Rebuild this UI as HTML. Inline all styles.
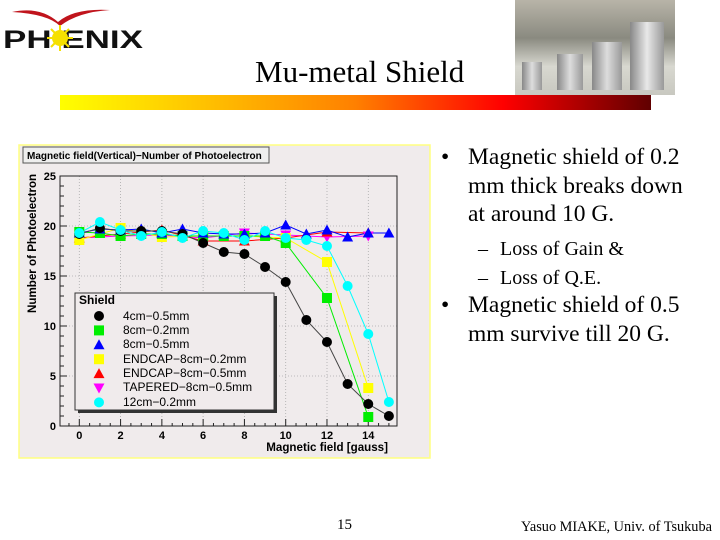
<!DOCTYPE html>
<html><head><meta charset="utf-8"><style>
body{margin:0;width:720px;height:540px;background:#fff;position:relative;overflow:hidden;font-family:"Liberation Serif",serif}
.a{position:absolute;white-space:nowrap}
</style></head><body>
<!-- logo -->
<svg class="a" style="left:0;top:0" width="150" height="60">
<path d="M12 12 Q40 6 58 22 Q74 8 110 10 Q78 12 60 26 Q48 14 12 12Z" fill="#c0141c"/>
<text x="3" y="48" font-family="Liberation Sans" font-weight="bold" font-size="25" fill="#111" textLength="140" lengthAdjust="spacingAndGlyphs">PH  ENIX</text>
<circle cx="60" cy="38" r="8" fill="#f5e000"/>
<g stroke="#f5e000" stroke-width="2"><line x1="60" y1="25" x2="60" y2="51"/><line x1="47" y1="38" x2="73" y2="38"/><line x1="51" y1="29" x2="69" y2="47"/><line x1="51" y1="47" x2="69" y2="29"/></g>
</svg>
<!-- photo -->
<div class="a" style="left:515px;top:0;width:160px;height:95px;background:linear-gradient(180deg,#b8b4a8 0%,#8a8a80 40%,#d8d8d0 70%,#c8c8c0 100%)"></div>
<div class="a" style="left:522px;top:62px;width:20px;height:28px;background:linear-gradient(90deg,#888,#ddd,#999)"></div>
<div class="a" style="left:557px;top:54px;width:26px;height:36px;background:linear-gradient(90deg,#888,#ddd,#999)"></div>
<div class="a" style="left:592px;top:42px;width:30px;height:48px;background:linear-gradient(90deg,#888,#ddd,#999)"></div>
<div class="a" style="left:630px;top:22px;width:34px;height:68px;background:linear-gradient(90deg,#888,#e8e8e8,#999)"></div>
<div class="a" style="left:255px;top:54px;font-size:31px;color:#000">Mu-metal Shield</div>
<div class="a" style="left:60px;top:95px;width:591px;height:15px;background:linear-gradient(90deg,#ffff00 0%,#ffc000 25%,#ff8000 50%,#ff0000 75%,#600000 100%)"></div>

<!-- chart -->
<svg class="a" style="left:0;top:0" width="440" height="470" font-family="Liberation Sans" font-weight="bold">
<rect x="19" y="145" width="411" height="313" fill="#f0ebec" stroke="#ffff80" stroke-width="1.5"/>
<rect x="23" y="147" width="246" height="16" fill="#eeeeee" stroke="#555"/>
<text x="27" y="159" font-size="10">Magnetic field(Vertical)−Number of Photoelectron</text>
<g stroke="#aaa" stroke-dasharray="1,2" stroke-width="0.8">
<line x1="60" y1="376" x2="397" y2="376"/><line x1="60" y1="326" x2="397" y2="326"/><line x1="60" y1="276" x2="397" y2="276"/><line x1="60" y1="226" x2="397" y2="226"/>
<line x1="79.3" y1="176" x2="79.3" y2="426"/><line x1="120.6" y1="176" x2="120.6" y2="426"/><line x1="161.9" y1="176" x2="161.9" y2="426"/><line x1="203.1" y1="176" x2="203.1" y2="426"/><line x1="244.4" y1="176" x2="244.4" y2="426"/><line x1="285.7" y1="176" x2="285.7" y2="426"/><line x1="327" y1="176" x2="327" y2="426"/><line x1="368.3" y1="176" x2="368.3" y2="426"/>
</g>
<rect x="60" y="176" width="337" height="250" fill="none" stroke="#222"/>
<g font-size="11" text-anchor="end"><text x="56" y="430">0</text><text x="56" y="380">5</text><text x="56" y="330">10</text><text x="56" y="280">15</text><text x="56" y="230">20</text><text x="56" y="180">25</text></g>
<g font-size="11" text-anchor="middle"><text x="79.3" y="439">0</text><text x="120.6" y="439">2</text><text x="161.9" y="439">4</text><text x="203.1" y="439">6</text><text x="244.4" y="439">8</text><text x="285.7" y="439">10</text><text x="327" y="439">12</text><text x="368.3" y="439">14</text></g>
<text x="388" y="451" font-size="11.6" text-anchor="end">Magnetic field [gauss]</text>
<text transform="translate(36,313) rotate(-90)" font-size="11.6">Number of Photoelectron</text>
<g id="ticks" stroke="#222"></g>
<g id="series"></g>
<rect x="78" y="296" width="199" height="117" fill="#333"/>
<rect x="75" y="293" width="199" height="117" fill="#f0ebec" stroke="#333"/>
<text x="79" y="304" font-size="12">Shield</text>
<g font-size="12" font-weight="normal" font-family="Liberation Sans">
<text x="123" y="320">4cm−0.5mm</text><text x="123" y="334">8cm−0.2mm</text><text x="123" y="348">8cm−0.5mm</text><text x="123" y="363">ENDCAP−8cm−0.2mm</text><text x="123" y="377">ENDCAP−8cm−0.5mm</text><text x="123" y="391">TAPERED−8cm−0.5mm</text><text x="123" y="406">12cm−0.2mm</text>
</g>
<g id="leg"></g>
</svg>

<div class="a" style="left:441px;top:143px;font-size:23.5px;line-height:28.5px">•</div>
<div class="a" style="left:468px;top:143px;font-size:23.5px;line-height:28.5px">Magnetic shield of 0.2<br>mm thick breaks down<br>at around 10 G.</div>
<div class="a" style="left:478px;top:235px;font-size:20px;line-height:29px">–<br>–</div>
<div class="a" style="left:500px;top:235px;font-size:20px;line-height:29px">Loss of Gain &amp;<br>Loss of Q.E.</div>
<div class="a" style="left:441px;top:291px;font-size:23.5px;line-height:28.5px">•</div>
<div class="a" style="left:468px;top:291px;font-size:23.5px;line-height:28.5px">Magnetic shield of 0.5<br>mm survive till 20 G.</div>
<div class="a" style="left:337px;top:517px;font-size:15px">15</div>
<div class="a" style="left:521px;top:519px;font-size:14.3px">Yasuo MIAKE, Univ. of Tsukuba</div>
<script>
var X=x=>79.3+20.64*x,Y=y=>426-10*y,NS="http://www.w3.org/2000/svg";
function el(p,t,a){var e=document.createElementNS(NS,t);for(var k in a)e.setAttribute(k,a[k]);p.appendChild(e);return e}
var tk=document.getElementById("ticks");
for(var i=0;i<=25;i++){el(tk,"line",{x1:60,x2:i%5?64:67,y1:Y(i),y2:Y(i)})}
for(var i=-0.5;i<=15.5;i+=0.5){var xx=X(i);if(xx<60||xx>397)continue;el(tk,"line",{x1:xx,x2:xx,y1:426,y2:Number.isInteger(i)&&i%2==0?419:423})}
function mk(p,s,c,x,y){
 if(s=="o")el(p,"circle",{cx:x,cy:y,r:5,fill:c});
 else if(s=="s")el(p,"rect",{x:x-5,y:y-5,width:10,height:10,fill:c});
 else if(s=="t")el(p,"polygon",{points:`${x},${y-5.5} ${x-5.5},${y+4.5} ${x+5.5},${y+4.5}`,fill:c});
 else el(p,"polygon",{points:`${x},${y+5.5} ${x-5.5},${y-4.5} ${x+5.5},${y-4.5}`,fill:c});
}
var S=[
["#ff00ff","v",[[0,18.8],[2,19.0],[4,19.1],[6,18.8],[8,19.3],[10,19.1],[12,18.9],[14,19.0]]],
["#ff0000","t",[[0,18.8],[2,19.2],[4,19.6],[6,18.5],[8,18.5],[10,18.8],[12,19.4],[14,19.3]]],
["#ffff00","s",[[0,18.6],[2,19.8],[4,18.9],[6,19],[8,19],[10,18.8],[12,16.4],[14,3.8]]],
["#00ee00","s",[[0,19.4],[1,19.3],[2,19.0],[3,19.2],[4,19.2],[5,19.0],[6,19.0],[7,19],[8,19],[9,19],[10,18.3],[12,12.8],[14,0.9]]],
["#0000ff","t",[[0,19.3],[1,19.7],[2,19.6],[3,19.7],[4,19.3],[5,19.7],[6,19.3],[7,19.2],[8,19.2],[9,19.3],[10,20.1],[11,19.2],[12,19.6],[13,18.9],[14,19.3],[15,19.3]]],
["#000000","o",[[0,19.2],[1,19.8],[2,19.5],[3,19.5],[4,19.5],[5,19.2],[6,18.3],[7,17.4],[8,17.2],[9,15.9],[10,14.4],[11,10.6],[12,8.4],[13,4.2],[14,2.2],[15,1.0]]],
["#00ffff","o",[[0,19.3],[1,20.4],[2,19.6],[3,19.0],[4,19.4],[5,18.8],[6,19.5],[7,19.3],[8,18.6],[9,19.5],[10,18.8],[11,18.6],[12,18.0],[13,14.0],[14,9.2],[15,2.4]]]];
var g=document.getElementById("series");
S.forEach(s=>{el(g,"polyline",{points:s[2].map(p=>X(p[0])+","+Y(p[1])).join(" "),fill:"none",stroke:s[0]=="#000000"?"#444":s[0],"stroke-width":1})});
S.forEach(s=>s[2].forEach(p=>mk(g,s[1],s[0],X(p[0]),Y(p[1]))));
var L=[["#000","o"],["#00ee00","s"],["#0000ff","t"],["#ffff00","s"],["#ff0000","t"],["#ff00ff","v"],["#00ffff","o"]],lg=document.getElementById("leg");
L.forEach((l,i)=>mk(lg,l[1],l[0],99,316+i*14.4));
</script>
</body></html>
